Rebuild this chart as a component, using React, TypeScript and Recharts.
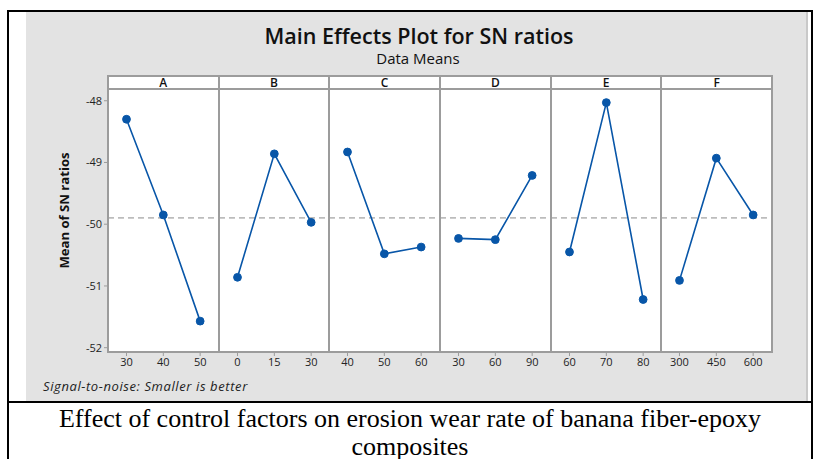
import { LineChart, Line, XAxis, YAxis, ReferenceLine } from "recharts";

const factors = ["A", "B", "C", "D", "E", "F"];

const levelsA = ["30", "40", "50"];
const levelsB = ["0", "15", "30"];
const levelsC = ["40", "50", "60"];
const levelsD = ["30", "60", "90"];
const levelsE = ["60", "70", "80"];
const levelsF = ["300", "450", "600"];

const snA = [-48.3, -49.85, -51.57];
const snB = [-50.86, -48.86, -49.97];
const snC = [-48.83, -50.48, -50.37];
const snD = [-50.23, -50.25, -49.21];
const snE = [-50.45, -48.03, -51.22];
const snF = [-50.91, -48.93, -49.85];

const yTicks = [-52, -51, -50, -49, -48];
const yDomain = [-52.07, -47.81];

const levels = [levelsA, levelsB, levelsC, levelsD, levelsE, levelsF];
const values = [snA, snB, snC, snD, snE, snF];
const allValues = values.flat();
const grandMean = allValues.reduce((s, v) => s + v, 0) / allValues.length;

const FONT = "'Open Sans', 'Noto Sans', sans-serif";
const BLUE = "#0856a8";
const FRAME = "#9c9c9c";
const BG = "#e3e3e3";

const PLOT_LEFT = 108;
const HEADER_TOP = 76;
const PLOT_TOP = 89;
const PLOT_H = 263;
const AXIS_H = 24;
const PANEL_W = 664 / 6;
const YAXIS_W = 80;

const YLabel = ({ viewBox }: any) => {
  const cx = (viewBox?.x ?? 0) + 36;
  const cy = (viewBox?.y ?? 0) + (viewBox?.height ?? PLOT_H) / 2 - 10;
  return (
    <text
      x={cx}
      y={cy}
      transform={`rotate(-90 ${cx} ${cy})`}
      textAnchor="middle"
      dominantBaseline="central"
      fontSize={13}
      fontWeight={700}
      fontFamily={FONT}
      textLength={116}
      lengthAdjust="spacingAndGlyphs"
      fill="#111"
    >
      Mean of SN ratios
    </text>
  );
};

function Panel({ idx }: { idx: number }) {
  const first = idx === 0;
  const data = levels[idx].map((level, i) => ({ level, sn: values[idx][i] }));
  const tickStyle = { fontSize: 11, fill: "#222", fontFamily: FONT };
  return (
    <LineChart
      width={PANEL_W + (first ? YAXIS_W : 0)}
      height={PLOT_H + AXIS_H}
      data={data}
      margin={{ top: 0, right: 0, bottom: 0, left: 0 }}
    >
      <XAxis
        dataKey="level"
        interval={0}
        padding={{ left: 18.5, right: 18.5 }}
        axisLine={false}
        tickLine={{ stroke: FRAME }}
        tickSize={4}
        tick={tickStyle}
        height={AXIS_H}
      />
      <YAxis
        hide={!first}
        width={YAXIS_W}
        domain={yDomain}
        ticks={yTicks}
        allowDataOverflow
        axisLine={false}
        tickLine={{ stroke: FRAME }}
        tickSize={4}
        tick={tickStyle}
        label={first ? <YLabel /> : undefined}
      />
      <ReferenceLine y={grandMean} stroke="#8a8a8a" strokeDasharray="6 4" strokeWidth={1} />
      <Line
        dataKey="sn"
        stroke={BLUE}
        strokeWidth={1.6}
        dot={{ r: 3.9, fill: BLUE, stroke: BLUE, strokeWidth: 1 }}
        isAnimationActive={false}
      />
    </LineChart>
  );
}

export default function App() {
  return (
    <div
      style={{
        position: "absolute",
        left: 0,
        top: 0,
        width: 814,
        height: 459,
        background: "#fff",
        overflow: "hidden",
        fontFamily: FONT,
      }}
    >
      {/* outer black frame */}
      <div style={{ position: "absolute", left: 7, top: 10, width: 806, height: 2, background: "#000" }} />
      <div style={{ position: "absolute", left: 7, top: 10, width: 2, height: 449, background: "#000" }} />
      <div style={{ position: "absolute", left: 811, top: 10, width: 2, height: 449, background: "#000" }} />
      <div style={{ position: "absolute", left: 7, top: 401, width: 806, height: 2, background: "#000" }} />

      {/* grey graph window */}
      <div
        style={{
          position: "absolute",
          left: 26,
          top: 12,
          width: 782,
          height: 389,
          background: BG,
          borderRight: "2px solid #c9c9c9",
          boxSizing: "border-box",
        }}
      />

      <div
        style={{
          position: "absolute",
          left: 0,
          width: 838,
          top: 24,
          textAlign: "center",
          fontSize: 21.5,
          lineHeight: "24px",
          fontWeight: 600,
          color: "#111",
        }}
      >
        Main Effects Plot for SN ratios
      </div>
      <div
        style={{
          position: "absolute",
          left: 0,
          width: 836,
          top: 50,
          textAlign: "center",
          fontSize: 15,
          lineHeight: "17px",
          color: "#111",
        }}
      >
        Data Means
      </div>

      {/* plot background */}
      <div
        style={{
          position: "absolute",
          left: PLOT_LEFT,
          top: HEADER_TOP,
          width: 664,
          height: PLOT_TOP + PLOT_H - HEADER_TOP,
          background: "#fff",
        }}
      />

      {factors.map((f, i) => (
        <div
          key={f}
          style={{
            position: "absolute",
            left: i === 0 ? PLOT_LEFT - YAXIS_W : PLOT_LEFT + i * PANEL_W,
            top: PLOT_TOP,
          }}
        >
          <Panel idx={i} />
        </div>
      ))}

      {/* panel frames and strips */}
      <div
        style={{
          position: "absolute",
          left: PLOT_LEFT - 1,
          top: HEADER_TOP - 1,
          width: 666,
          height: PLOT_TOP + PLOT_H - HEADER_TOP + 2,
          border: `2px solid ${FRAME}`,
          boxSizing: "border-box",
          pointerEvents: "none",
        }}
      />
      <div
        style={{
          position: "absolute",
          left: PLOT_LEFT,
          top: PLOT_TOP - 1,
          width: 664,
          height: 1.5,
          background: FRAME,
        }}
      />
      {factors.slice(1).map((f, i) => (
        <div
          key={"sep" + f}
          style={{
            position: "absolute",
            left: PLOT_LEFT + (i + 1) * PANEL_W - 1,
            top: HEADER_TOP,
            width: 2,
            height: PLOT_TOP + PLOT_H - HEADER_TOP,
            background: FRAME,
          }}
        />
      ))}
      {factors.map((f, i) => (
        <div
          key={"h" + f}
          style={{
            position: "absolute",
            left: PLOT_LEFT + i * PANEL_W,
            width: PANEL_W,
            top: HEADER_TOP,
            height: PLOT_TOP - HEADER_TOP,
            lineHeight: `${PLOT_TOP - HEADER_TOP}px`,
            textAlign: "center",
            fontSize: 12,
            fontWeight: 600,
            color: "#111",
          }}
        >
          {f}
        </div>
      ))}

      <div
        style={{
          position: "absolute",
          left: 43,
          top: 377,
          fontSize: 13,
          lineHeight: "18px",
          fontStyle: "italic",
          color: "#222",
          letterSpacing: 0.6,
        }}
      >
        Signal-to-noise: Smaller is better
      </div>

      <div
        style={{
          position: "absolute",
          left: 9,
          width: 802,
          top: 405,
          textAlign: "center",
          fontFamily: "'Liberation Serif', 'Times New Roman', serif",
          fontSize: 26,
          lineHeight: "28px",
          color: "#000",
        }}
      >
        Effect of control factors on erosion wear rate of banana fiber-epoxy
        <br />
        composites
      </div>
    </div>
  );
}
